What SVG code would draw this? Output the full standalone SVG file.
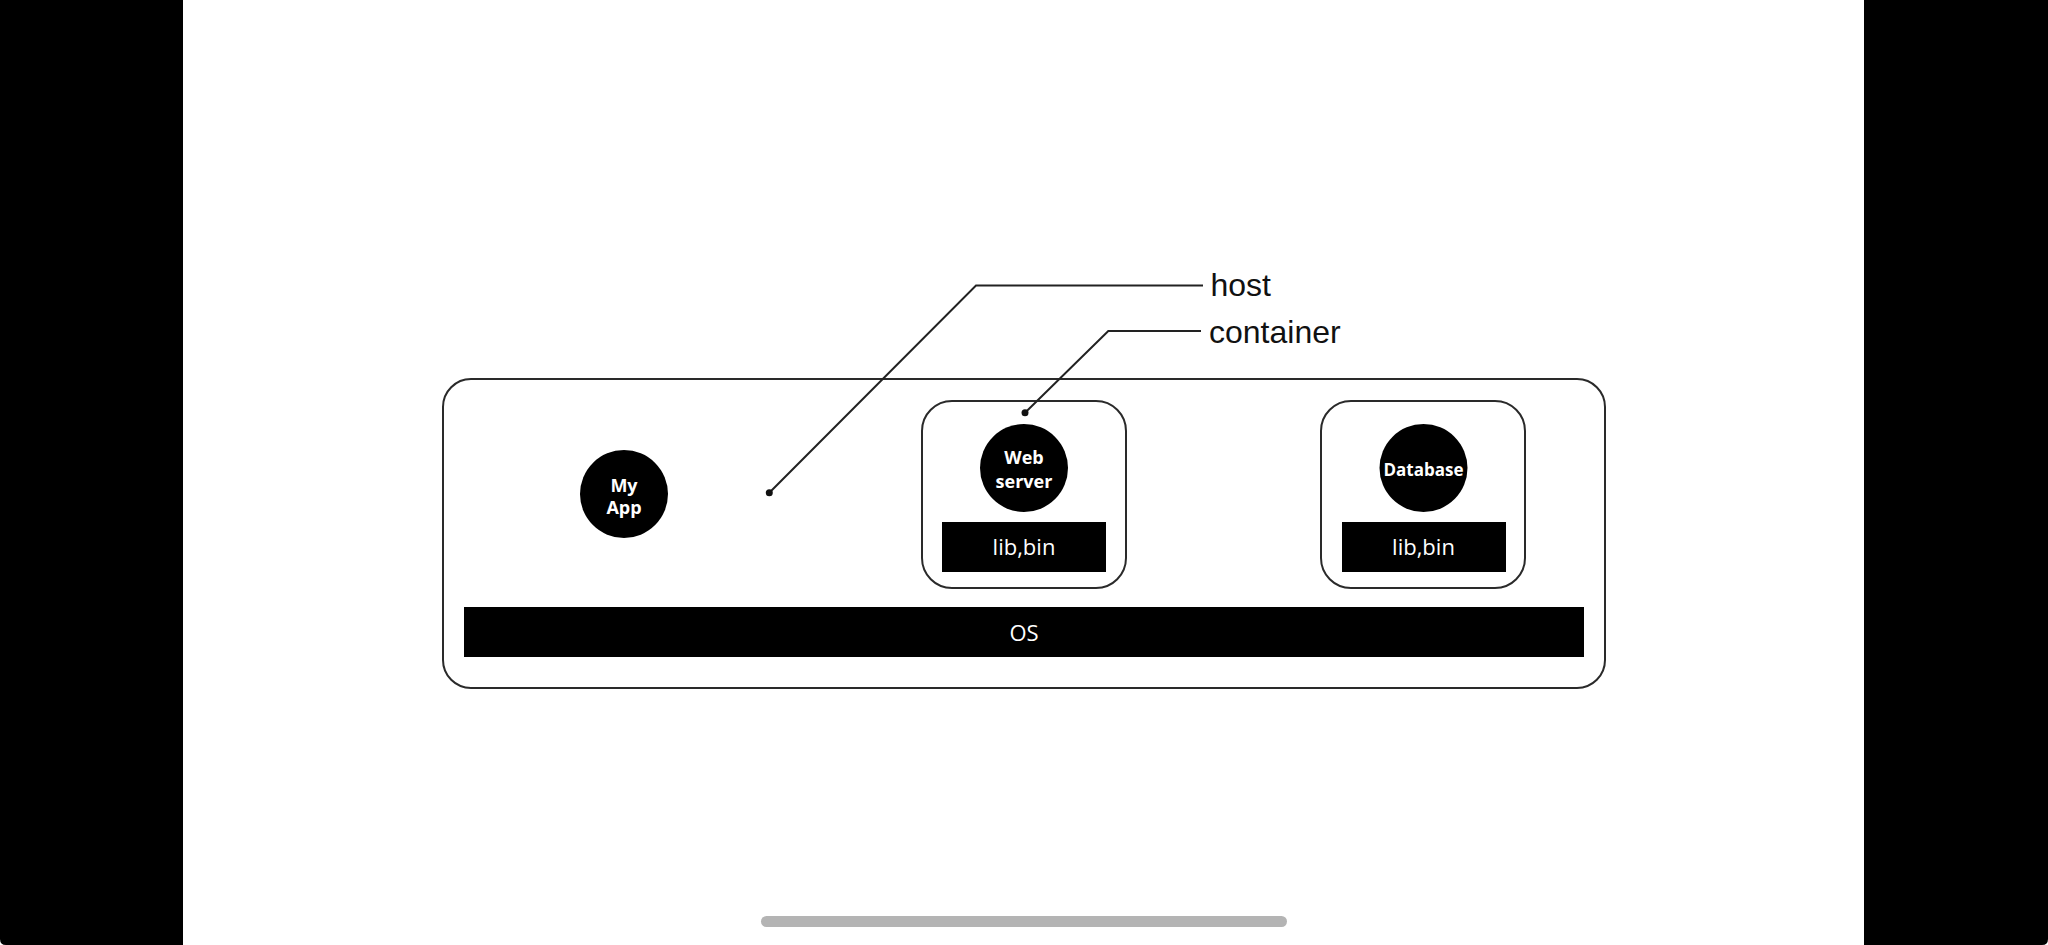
<svg xmlns="http://www.w3.org/2000/svg" width="2048" height="945" viewBox="0 0 2048 945">
<style>
.frame{fill:none;stroke:#2a2a2a;stroke-width:2}
.blk{fill:#000}
.circ{fill:#000}
.ctext{font-family:"Open Sans","Noto Sans",sans-serif;font-weight:700;font-size:18px;fill:#fff;text-anchor:middle}
.btext{font-family:"Open Sans","Noto Sans",sans-serif;font-weight:500;font-size:22px;fill:#fff;text-anchor:middle}
.label{font-family:"Liberation Sans",Arial,sans-serif;font-size:32px;fill:#111}
.leader{fill:none;stroke:#222;stroke-width:2}
.dot{fill:#111}
</style>
<rect x="0" y="0" width="2048" height="945" fill="#fff"/>
<g id="screen-bars">
<path d="M0 0 H183 V945 H6 Q0 945 0 939 Z" fill="#000"/>
<path d="M1864 0 H2048 V939 Q2048 945 2042 945 H1864 Z" fill="#000"/>
<rect x="761" y="916" width="526" height="11" rx="5.5" fill="#b4b4b4"/>
</g>
<g id="host">
<rect class="frame" x="443" y="379" width="1162" height="309" rx="28"/>
</g>
<g id="os">
<rect class="blk" x="464" y="607" width="1120" height="50"/>
<text class="btext" x="1024" y="641">OS</text>
</g>
<g id="myapp">
<circle class="circ" cx="624" cy="494" r="44"/>
<text class="ctext" x="624" y="491.5">My</text>
<text class="ctext" x="624" y="513.5">App</text>
</g>
<g id="container-web">
<rect class="frame" x="922" y="401" width="204" height="187" rx="30"/>
<circle class="circ" cx="1024" cy="468" r="44"/>
<text class="ctext" x="1024" y="464">Web</text>
<text class="ctext" x="1024" y="487.5">server</text>
<rect class="blk" x="942" y="522" width="164" height="50"/>
<text class="btext" x="1024" y="555">lib,bin</text>
</g>
<g id="container-db">
<rect class="frame" x="1321" y="401" width="204" height="187" rx="30"/>
<circle class="circ" cx="1423.5" cy="468" r="44"/>
<text class="ctext" x="1423.5" y="475.5" style="font-size:17px">Database</text>
<rect class="blk" x="1342" y="522" width="164" height="50"/>
<text class="btext" x="1423.5" y="555">lib,bin</text>
</g>
<g id="connectors">
<path class="leader" d="M769.3 492.7 L976 285.5 L1203 285.5"/>
<circle class="dot" cx="769.3" cy="492.7" r="3.5"/>
<path class="leader" d="M1025 412.7 L1108.3 331 L1201 331"/>
<circle class="dot" cx="1025" cy="412.7" r="3.5"/>
</g>
<g id="labels">
<text class="label" x="1210.5" y="296">host</text>
<text class="label" x="1209" y="343">container</text>
</g>
</svg>
